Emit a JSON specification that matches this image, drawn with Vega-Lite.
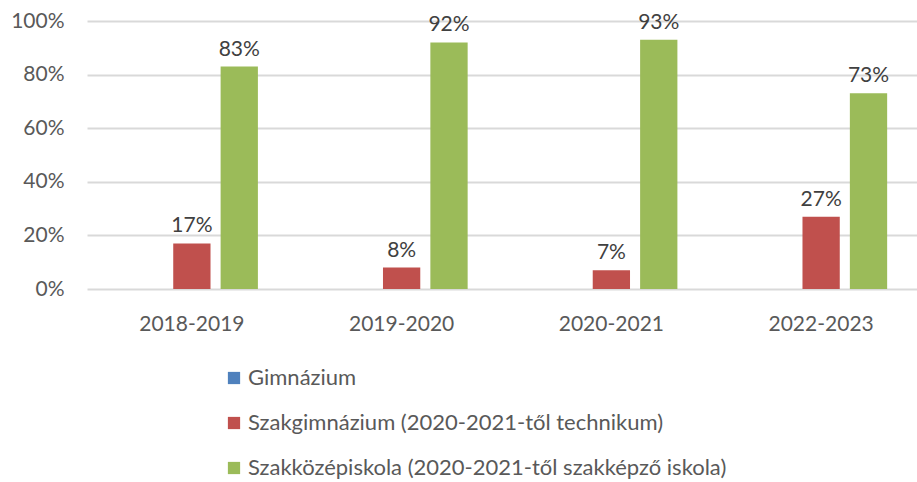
{
  "$schema": "https://vega.github.io/schema/vega-lite/v6.json",
  "autosize": {"type": "none"},
  "width": 839,
  "height": 268,
  "padding": {"left": 87, "top": 21, "right": 0, "bottom": 193},
  "background": "white",
  "config": {
    "font": "Lato",
    "view": {"stroke": null}
  },
  "data": {
    "values": [
      {"year": "2018-2019", "type": "Gimnázium", "value": 0},
      {"year": "2018-2019", "type": "Szakgimnázium (2020-2021-től technikum)", "value": 0.17},
      {"year": "2018-2019", "type": "Szakközépiskola (2020-2021-től szakképző iskola)", "value": 0.83},
      {"year": "2019-2020", "type": "Gimnázium", "value": 0},
      {"year": "2019-2020", "type": "Szakgimnázium (2020-2021-től technikum)", "value": 0.08},
      {"year": "2019-2020", "type": "Szakközépiskola (2020-2021-től szakképző iskola)", "value": 0.92},
      {"year": "2020-2021", "type": "Gimnázium", "value": 0},
      {"year": "2020-2021", "type": "Szakgimnázium (2020-2021-től technikum)", "value": 0.07},
      {"year": "2020-2021", "type": "Szakközépiskola (2020-2021-től szakképző iskola)", "value": 0.93},
      {"year": "2022-2023", "type": "Gimnázium", "value": 0},
      {"year": "2022-2023", "type": "Szakgimnázium (2020-2021-től technikum)", "value": 0.27},
      {"year": "2022-2023", "type": "Szakközépiskola (2020-2021-től szakképző iskola)", "value": 0.73}
    ]
  },
  "encoding": {
    "x": {
      "field": "year", "type": "nominal", "title": null,
      "scale": {"paddingInner": 0, "paddingOuter": 0},
      "axis": {"labelAngle": 0, "domain": false, "ticks": false, "labelFontSize": 21, "labelColor": "#595959", "labelPadding": 24, "grid": false}
    },
    "xOffset": {
      "field": "type", "type": "nominal",
      "sort": ["Gimnázium", "Szakgimnázium (2020-2021-től technikum)", "Szakközépiskola (2020-2021-től szakképző iskola)"],
      "scale": {"paddingInner": 0.213, "paddingOuter": 0.82}
    },
    "y": {
      "field": "value", "type": "quantitative", "title": null,
      "scale": {"domain": [0, 1]},
      "axis": {"format": ".0%", "values": [0, 0.2, 0.4, 0.6, 0.8, 1], "labelOverlap": false, "labelBound": false, "labelFlush": false, "domain": false, "ticks": false, "labelFontSize": 21, "labelColor": "#595959", "labelPadding": 23, "gridColor": "#d9d9d9", "gridWidth": 2}
    }
  },
  "layer": [
    {
      "mark": {"type": "bar"},
      "encoding": {
        "color": {
          "field": "type", "type": "nominal", "title": null,
          "sort": ["Gimnázium", "Szakgimnázium (2020-2021-től technikum)", "Szakközépiskola (2020-2021-től szakképző iskola)"],
          "scale": {"range": ["#4f81bd", "#c0504d", "#9bbb59"]},
          "legend": {
            "orient": "none", "legendX": 136, "legendY": 346, "direction": "vertical",
            "symbolType": "square", "symbolSize": 150, "symbolStrokeWidth": 0,
            "labelFontSize": 22, "labelColor": "#595959", "labelOffset": 3,
            "rowPadding": 23, "labelLimit": 700
          }
        }
      }
    },
    {
      "transform": [{"filter": "datum.value > 0"}],
      "mark": {"type": "text", "baseline": "bottom", "dy": -7, "fontSize": 21, "color": "#404040"},
      "encoding": {
        "text": {"field": "value", "type": "quantitative", "format": ".0%"}
      }
    }
  ]
}
